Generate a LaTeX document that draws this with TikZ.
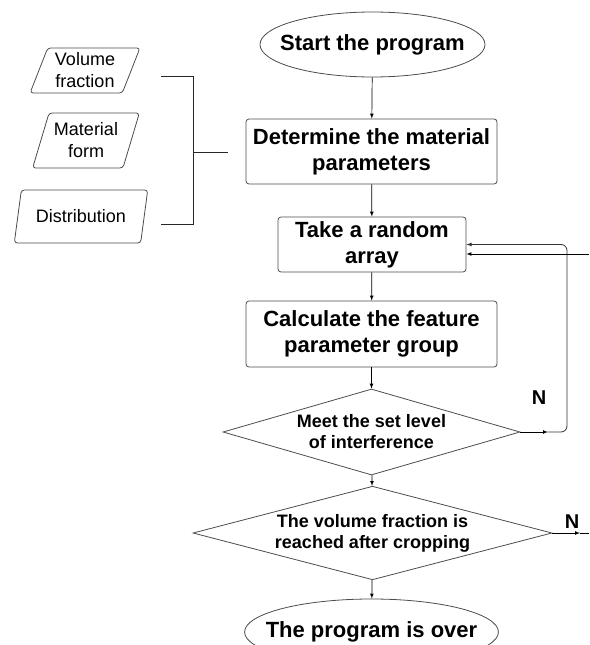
\documentclass[tikz,border=0pt]{standalone}
\usepackage{fontspec}
\setmainfont{Liberation Sans}
\usepackage{tikz}
\usetikzlibrary{arrows,shapes.geometric}

\begin{document}
\begin{tikzpicture}[x=1pt,y=-1pt,
  line/.style={draw=black!70,line width=0.8pt},
  arr/.style={draw=black,line width=0.7pt,-latex},
  bigtxt/.style={font=\fontsize{22}{26}\selectfont\bfseries,align=center},
  midtxt/.style={font=\fontsize{18}{21}\selectfont\bfseries,align=center},
  smalltxt/.style={font=\fontsize{18}{22}\selectfont,align=center},
  term/.style={ellipse,line,bigtxt,inner xsep=-16pt,inner ysep=0pt},
  procbox/.style={rectangle,rounded corners=3pt,line,bigtxt,inner sep=0pt},
  decision/.style={diamond,line,midtxt,inner sep=0pt,aspect=3.5},
  datain/.style={trapezium,trapezium left angle=68,trapezium right angle=112,
    trapezium stretches=true,rounded corners=3pt,line,smalltxt,inner sep=0pt}]
\useasboundingbox (0,0) rectangle (589,645);

% main column
\node[term,minimum width=225,minimum height=65] (start) at (372.5,44.5) {Start the program};
\node[procbox,minimum width=251,minimum height=65] (determine) at (371.5,151.5) {Determine the material\\parameters};
\node[procbox,minimum width=188,minimum height=55] (take) at (372,244.5) {Take a random\\array};
\node[procbox,minimum width=251,minimum height=66] (calc) at (371.5,334) {Calculate the feature\\parameter group};
\node[decision,minimum width=297,minimum height=86] (meet) at (371.5,432) {Meet the set level\\of interference};
\node[decision,minimum width=359,minimum height=93] (reach) at (372.5,533) {The volume fraction is\\reached after cropping};
\node[term,minimum width=253,minimum height=66] (over) at (371.5,632) {The program is over};

% inputs
\node[datain,minimum width=110,minimum height=45] (vol) at (85,70.5) {Volume\\fraction};
\node[datain,minimum width=107,minimum height=55] (form) at (86,140.5) {Material\\form};
\node[datain,minimum width=134,minimum height=53] (dist) at (81,216.5) {Distribution};

% bracket
\coordinate (bt) at (161,76);
\coordinate (bb) at (161,224);
\coordinate (bm) at (193,152);
\coordinate (bend) at (228,152);
\draw[line,draw=black!85] (bt) -| (193,224) -- (bb);
\draw[line,draw=black!85] (bm) -- (bend);

% flow
\draw[arr] (start) -- (determine);
\draw[arr] (determine) -- (take);
\draw[arr] (take) -- (calc);
\draw[arr] (calc) -- (meet);
\draw[arr] (meet) -- (reach);
\draw[arr] (reach) -- (over);

% N loop back
\coordinate (n1) at (548,432);
\draw[arr] (meet.east) -- (n1);
\draw[line,draw=black!80,rounded corners=6pt,-latex] (n1) -- (567,432) |- (take.east);
\coordinate (rin) at (589,254);
\draw[arr] (rin) -- (take.east |- rin);
\node[font=\fontsize{20}{20}\selectfont\bfseries] (n1lab) at (539,398) {N};

% N out
\coordinate (n2) at (580,533);
\coordinate (rout) at (589,533);
\draw[arr] (reach.east) -- (n2);
\draw[arr,-] (n2) -- (rout);
\node[font=\fontsize{20}{20}\selectfont\bfseries] (n2lab) at (572,522) {N};

\end{tikzpicture}
\end{document}
